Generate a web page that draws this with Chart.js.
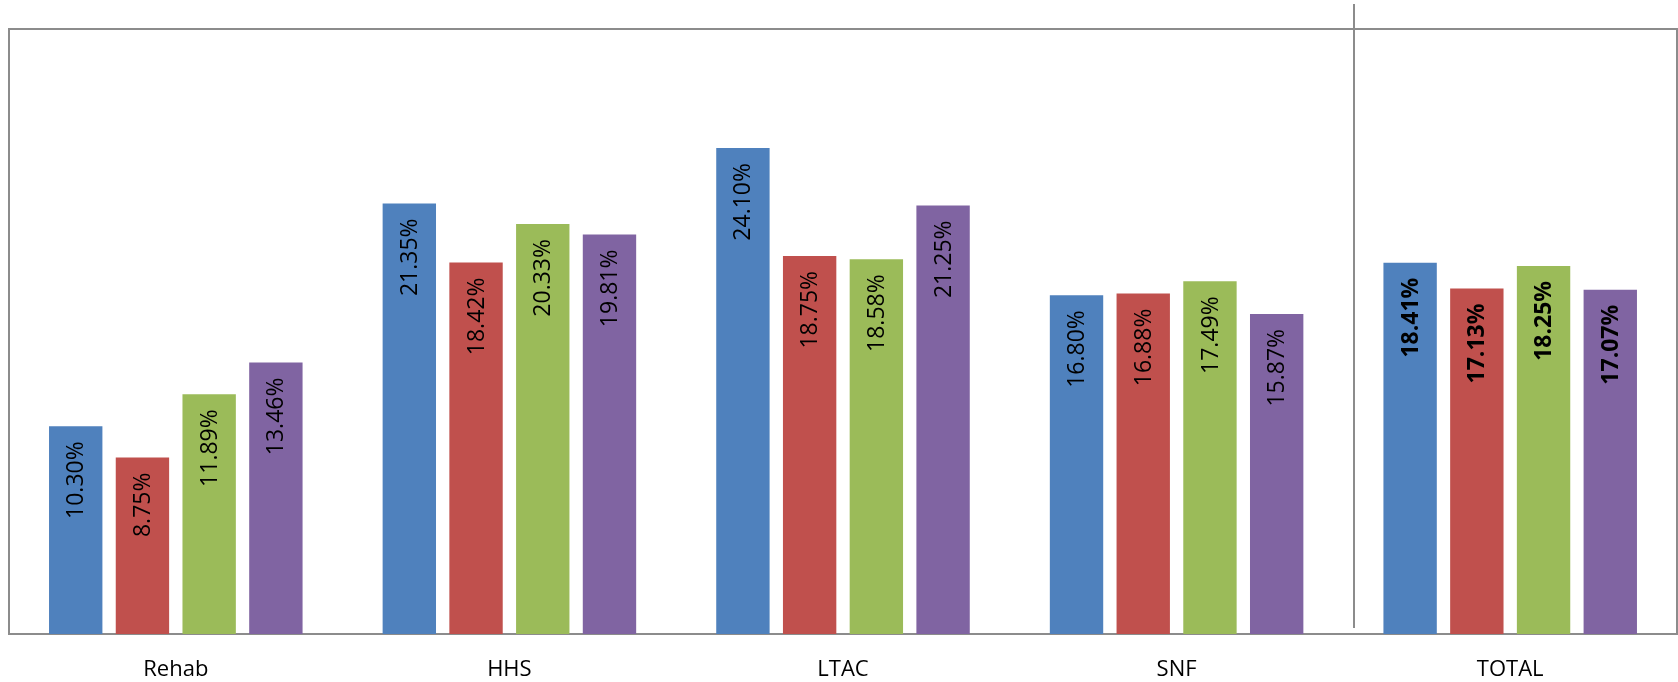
<!DOCTYPE html>
<html>
<head>
<meta charset="utf-8">
<script src="https://cdn.jsdelivr.net/npm/chart.js@4/dist/chart.umd.min.js"></script>
<style>
  html, body { margin: 0; padding: 0; background: #fff; }
  #wrap { width: 1678px; height: 682px; }
</style>
</head>
<body>
<div id="wrap"><canvas id="chart"></canvas></div>
<script>
// categories and series (percent values)
const categories = ['Rehab', 'HHS', 'LTAC', 'SNF', 'TOTAL'];
const series1 = [10.30, 21.35, 24.10, 16.80, 18.41];
const series2 = [8.75, 18.42, 18.75, 16.88, 17.13];
const series3 = [11.89, 20.33, 18.58, 17.49, 18.25];
const series4 = [13.46, 19.81, 21.25, 15.87, 17.07];

const colors = ['#4F81BD', '#C0504D', '#9BBB59', '#8064A2'];
const frameColor = '#8c8c8c';

// box around the plot area + the separator before TOTAL
const framePlugin = {
    id: 'frame',
    beforeDatasetsDraw(chart) {
        const { ctx, chartArea: a, scales } = chart;
        ctx.save();
        ctx.strokeStyle = frameColor;
        ctx.lineWidth = 2;
        ctx.strokeRect(a.left, a.top, a.right - a.left, a.bottom - a.top);
        const sx = Math.round(scales.x.getPixelForValue(3.533));
        ctx.beginPath();
        ctx.moveTo(sx, a.top - 25);
        ctx.lineTo(sx, a.bottom - 6);
        ctx.stroke();
        ctx.restore();
    }
};

// rotated value labels inside the top of each bar
const valueLabels = {
    id: 'valueLabels',
    afterDatasetsDraw(chart) {
        const ctx = chart.ctx;
        chart.data.datasets.forEach((ds, i) => {
            chart.getDatasetMeta(i).data.forEach((bar, j) => {
                const bold = categories[j] === 'TOTAL';
                ctx.save();
                ctx.translate(bar.x, bar.y + 15);
                ctx.rotate(-Math.PI / 2);
                ctx.font = (bold ? 'bold 23px' : '23px') + ' "Open Sans", sans-serif';
                ctx.fillStyle = '#000';
                ctx.textAlign = 'right';
                ctx.textBaseline = 'middle';
                ctx.fillText(ds.data[j].toFixed(2) + '%', 0, 1);
                ctx.restore();
            });
        });
    }
};

new Chart(document.getElementById('chart'), {
    type: 'bar',
    data: {
        labels: categories,
        datasets: [series1, series2, series3, series4].map((d, i) => ({
            label: 'Series ' + (i + 1),
            data: d,
            backgroundColor: colors[i],
            borderWidth: 0,
            categoryPercentage: 0.8,
            barPercentage: 0.8
        }))
    },
    options: {
        responsive: true,
        maintainAspectRatio: false,
        animation: false,
        layout: { padding: { top: 29, left: 9, right: 1, bottom: 0 } },
        plugins: {
            legend: { display: false },
            tooltip: { enabled: false }
        },
        scales: {
            x: {
                grid: { display: true, drawOnChartArea: false, drawTicks: false, color: 'rgba(0,0,0,0)' },
                border: { display: false },
                ticks: {
                    color: '#000',
                    padding: 23,
                    font: { family: '"Open Sans", sans-serif', size: 22 }
                },
                afterFit: (scale) => { scale.height = 48; }
            },
            y: {
                display: false,
                min: 0,
                max: 30
            }
        }
    },
    plugins: [framePlugin, valueLabels]
});
</script>
</body>
</html>
